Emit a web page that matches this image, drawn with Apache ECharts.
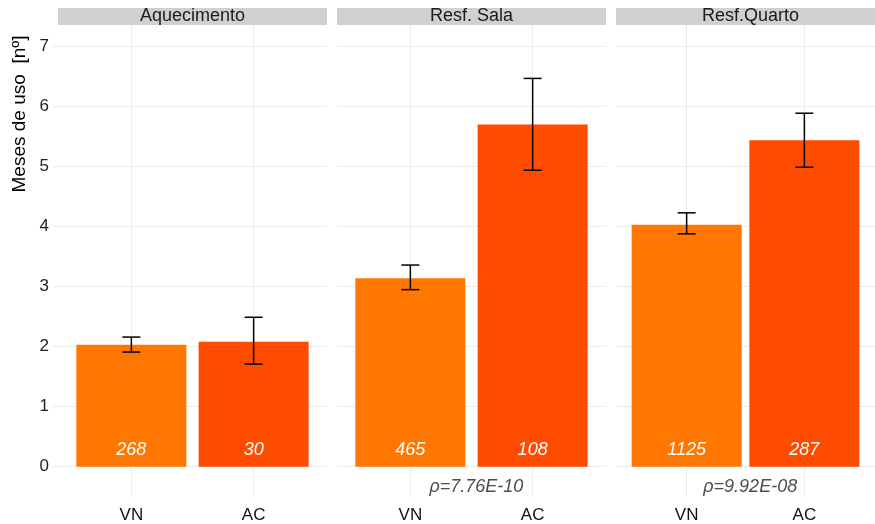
<!DOCTYPE html>
<html>
<head>
<meta charset="utf-8">
<script src="https://cdn.jsdelivr.net/npm/echarts@6/dist/echarts.min.js"></script>
<style>html,body{margin:0;padding:0;background:#fff}#c{width:875px;height:524px}</style>
</head>
<body>
<div id="c"></div>
<script>
// ---- data ----
const panels = ['Aquecimento', 'Resf. Sala', 'Resf.Quarto'];
const categories = ['VN', 'AC'];
const meanAquecimento = [2.03, 2.08];
const meanSala = [3.14, 5.70];
const meanQuarto = [4.03, 5.44];
const lowAquecimento = [1.91, 1.71];
const highAquecimento = [2.16, 2.49];
const lowSala = [2.95, 4.94];
const highSala = [3.36, 6.47];
const lowQuarto = [3.88, 4.99];
const highQuarto = [4.23, 5.89];
const countAquecimento = [268, 30];
const countSala = [465, 108];
const countQuarto = [1125, 287];
const pValues = ['', 'ρ=7.76E-10', 'ρ=9.92E-08'];
const yTicks = [0, 1, 2, 3, 4, 5, 6, 7];
const yTitle = 'Meses de uso  [nº]';

const means = [meanAquecimento, meanSala, meanQuarto];
const lows = [lowAquecimento, lowSala, lowQuarto];
const highs = [highAquecimento, highSala, highQuarto];
const counts = [countAquecimento, countSala, countQuarto];
const barColors = ['#ff7700', '#ff4b00'];
const xPos = [1, 2];

const panelLeft = [58, 337, 616];
const panelWidth = 269;
const panelTop = 25;
const panelBottomPx = 497;
const FONT = 'Liberation Sans, Arial, sans-serif';
const GRID = '#ebebeb';

const grids = [], xAxes = [], yAxes = [], series = [], graphics = [];
panels.forEach((name, i) => {
  grids.push({left: panelLeft[i], top: panelTop, width: panelWidth, height: panelBottomPx - panelTop, containLabel: false});
  xAxes.push({
    type: 'value', gridIndex: i, min: 0.4, max: 2.6,
    axisLine: {show: false},
    axisTick: {show: false, customValues: xPos},
    splitLine: {show: true, lineStyle: {color: GRID, width: 1}},
    axisLabel: {show: true, customValues: xPos, margin: 10, color: '#111', fontSize: 17, fontFamily: FONT,
      formatter: v => categories[Math.round(v) - 1] || ''}
  });
  yAxes.push({
    type: 'value', gridIndex: i, min: -0.505, max: 7.36,
    axisLine: {show: false},
    axisTick: {show: i === 0, length: 5, customValues: yTicks, lineStyle: {color: GRID}},
    splitLine: {show: true, lineStyle: {color: GRID, width: 1}},
    axisLabel: {show: i === 0, customValues: yTicks, margin: 9, color: '#222', fontSize: 17, fontFamily: FONT}
  });
  const barData = xPos.map((x, k) => ({value: [x, means[i][k]], itemStyle: {color: barColors[k]}, cnt: counts[i][k]}));
  const bar = {
    type: 'bar', xAxisIndex: i, yAxisIndex: i, barWidth: 110, data: barData,
    label: {show: true, position: 'insideBottom', distance: 8, color: '#fff', fontStyle: 'italic', fontSize: 18, fontFamily: FONT,
      formatter: p => String(p.data.cnt)},
    emphasis: {disabled: true}, z: 2
  };
  if (pValues[i]) {
    bar.markPoint = {
      symbol: 'circle', symbolSize: 1, itemStyle: {color: 'rgba(0,0,0,0)'},
      label: {show: true, position: 'inside', color: '#4d4d4d', fontStyle: 'italic', fontSize: 18, fontFamily: FONT,
        formatter: () => pValues[i]},
      data: [{coord: [1.54, -0.34]}]
    };
  }
  series.push(bar);
  series.push({
    type: 'custom', xAxisIndex: i, yAxisIndex: i, z: 5,
    data: xPos.map((x, k) => [x, lows[i][k], highs[i][k]]),
    encode: {x: 0, y: [1, 2]},
    renderItem: (params, api) => {
      const x = api.value(0);
      const a = api.coord([x, api.value(1)]);
      const b = api.coord([x, api.value(2)]);
      const w = 9;
      const st = {stroke: '#000', lineWidth: 1.5};
      return {type: 'group', children: [
        {type: 'line', shape: {x1: a[0], y1: a[1], x2: b[0], y2: b[1]}, style: st},
        {type: 'line', shape: {x1: a[0] - w, y1: a[1], x2: a[0] + w, y2: a[1]}, style: st},
        {type: 'line', shape: {x1: b[0] - w, y1: b[1], x2: b[0] + w, y2: b[1]}, style: st}
      ]};
    }
  });
  graphics.push({type: 'rect', shape: {x: panelLeft[i], y: 8, width: panelWidth, height: 17}, style: {fill: '#d0d0d0'}, z: 10});
  graphics.push({type: 'text', x: panelLeft[i] + panelWidth / 2, y: 16.5, z: 11,
    style: {text: name, fill: '#1a1a1a', font: '18px ' + FONT, align: 'center', verticalAlign: 'middle'}});
});
graphics.push({type: 'text', x: 20, y: 114, rotation: Math.PI / 2,
  style: {text: yTitle, fill: '#000', font: '19px ' + FONT, align: 'center', verticalAlign: 'middle'}});

const chart = echarts.init(document.getElementById('c'), null, {renderer: 'canvas'});
chart.setOption({
  animation: false, backgroundColor: '#fff',
  grid: grids, xAxis: xAxes, yAxis: yAxes, series: series, graphic: graphics
});
</script>
</body>
</html>
